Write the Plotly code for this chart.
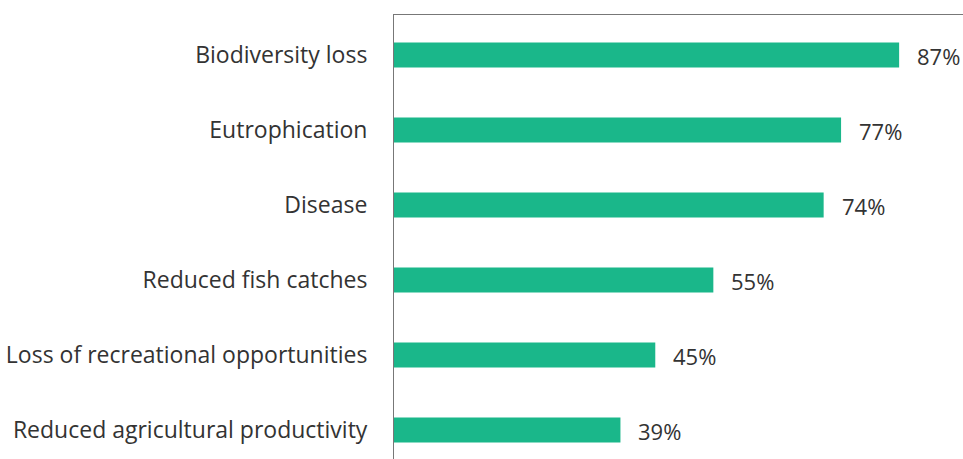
import plotly.graph_objects as go

categories = ["Biodiversity loss", "Eutrophication", "Disease", "Reduced fish catches",
              "Loss of recreational opportunities", "Reduced agricultural productivity"]
values = [87, 77, 74, 55, 45, 39]
labels = [f"{v}%" for v in values]

FONT = "Open Sans"
fig = go.Figure(go.Bar(
    x=values, y=categories, orientation="h",
    marker=dict(color="#1ab78a", line=dict(width=0)),
    hoverinfo="skip",
))
for c, v, t in zip(categories, values, labels):
    fig.add_annotation(x=v, y=c, text=t, showarrow=False, xanchor="left",
                       xshift=16, yshift=-1, font=dict(family=FONT, size=22, color="#333333"))

fig.update_layout(
    width=963, height=459,
    margin=dict(l=394, r=0, t=15, b=0),
    plot_bgcolor="white", paper_bgcolor="white",
    bargap=0.667, showlegend=False,
    xaxis=dict(range=[0, 98.0], side="top", showline=True, linecolor="#777777", linewidth=1,
               showgrid=False, zeroline=False, showticklabels=False, ticks=""),
    yaxis=dict(categoryorder="array", categoryarray=categories, range=[5.387, -0.533],
               showline=True, linecolor="#777777", linewidth=1, showgrid=False,
               ticks="", ticklabelstandoff=21,
               tickfont=dict(family=FONT, size=23, color="#333333")),
)
fig.write_html("out.html")
